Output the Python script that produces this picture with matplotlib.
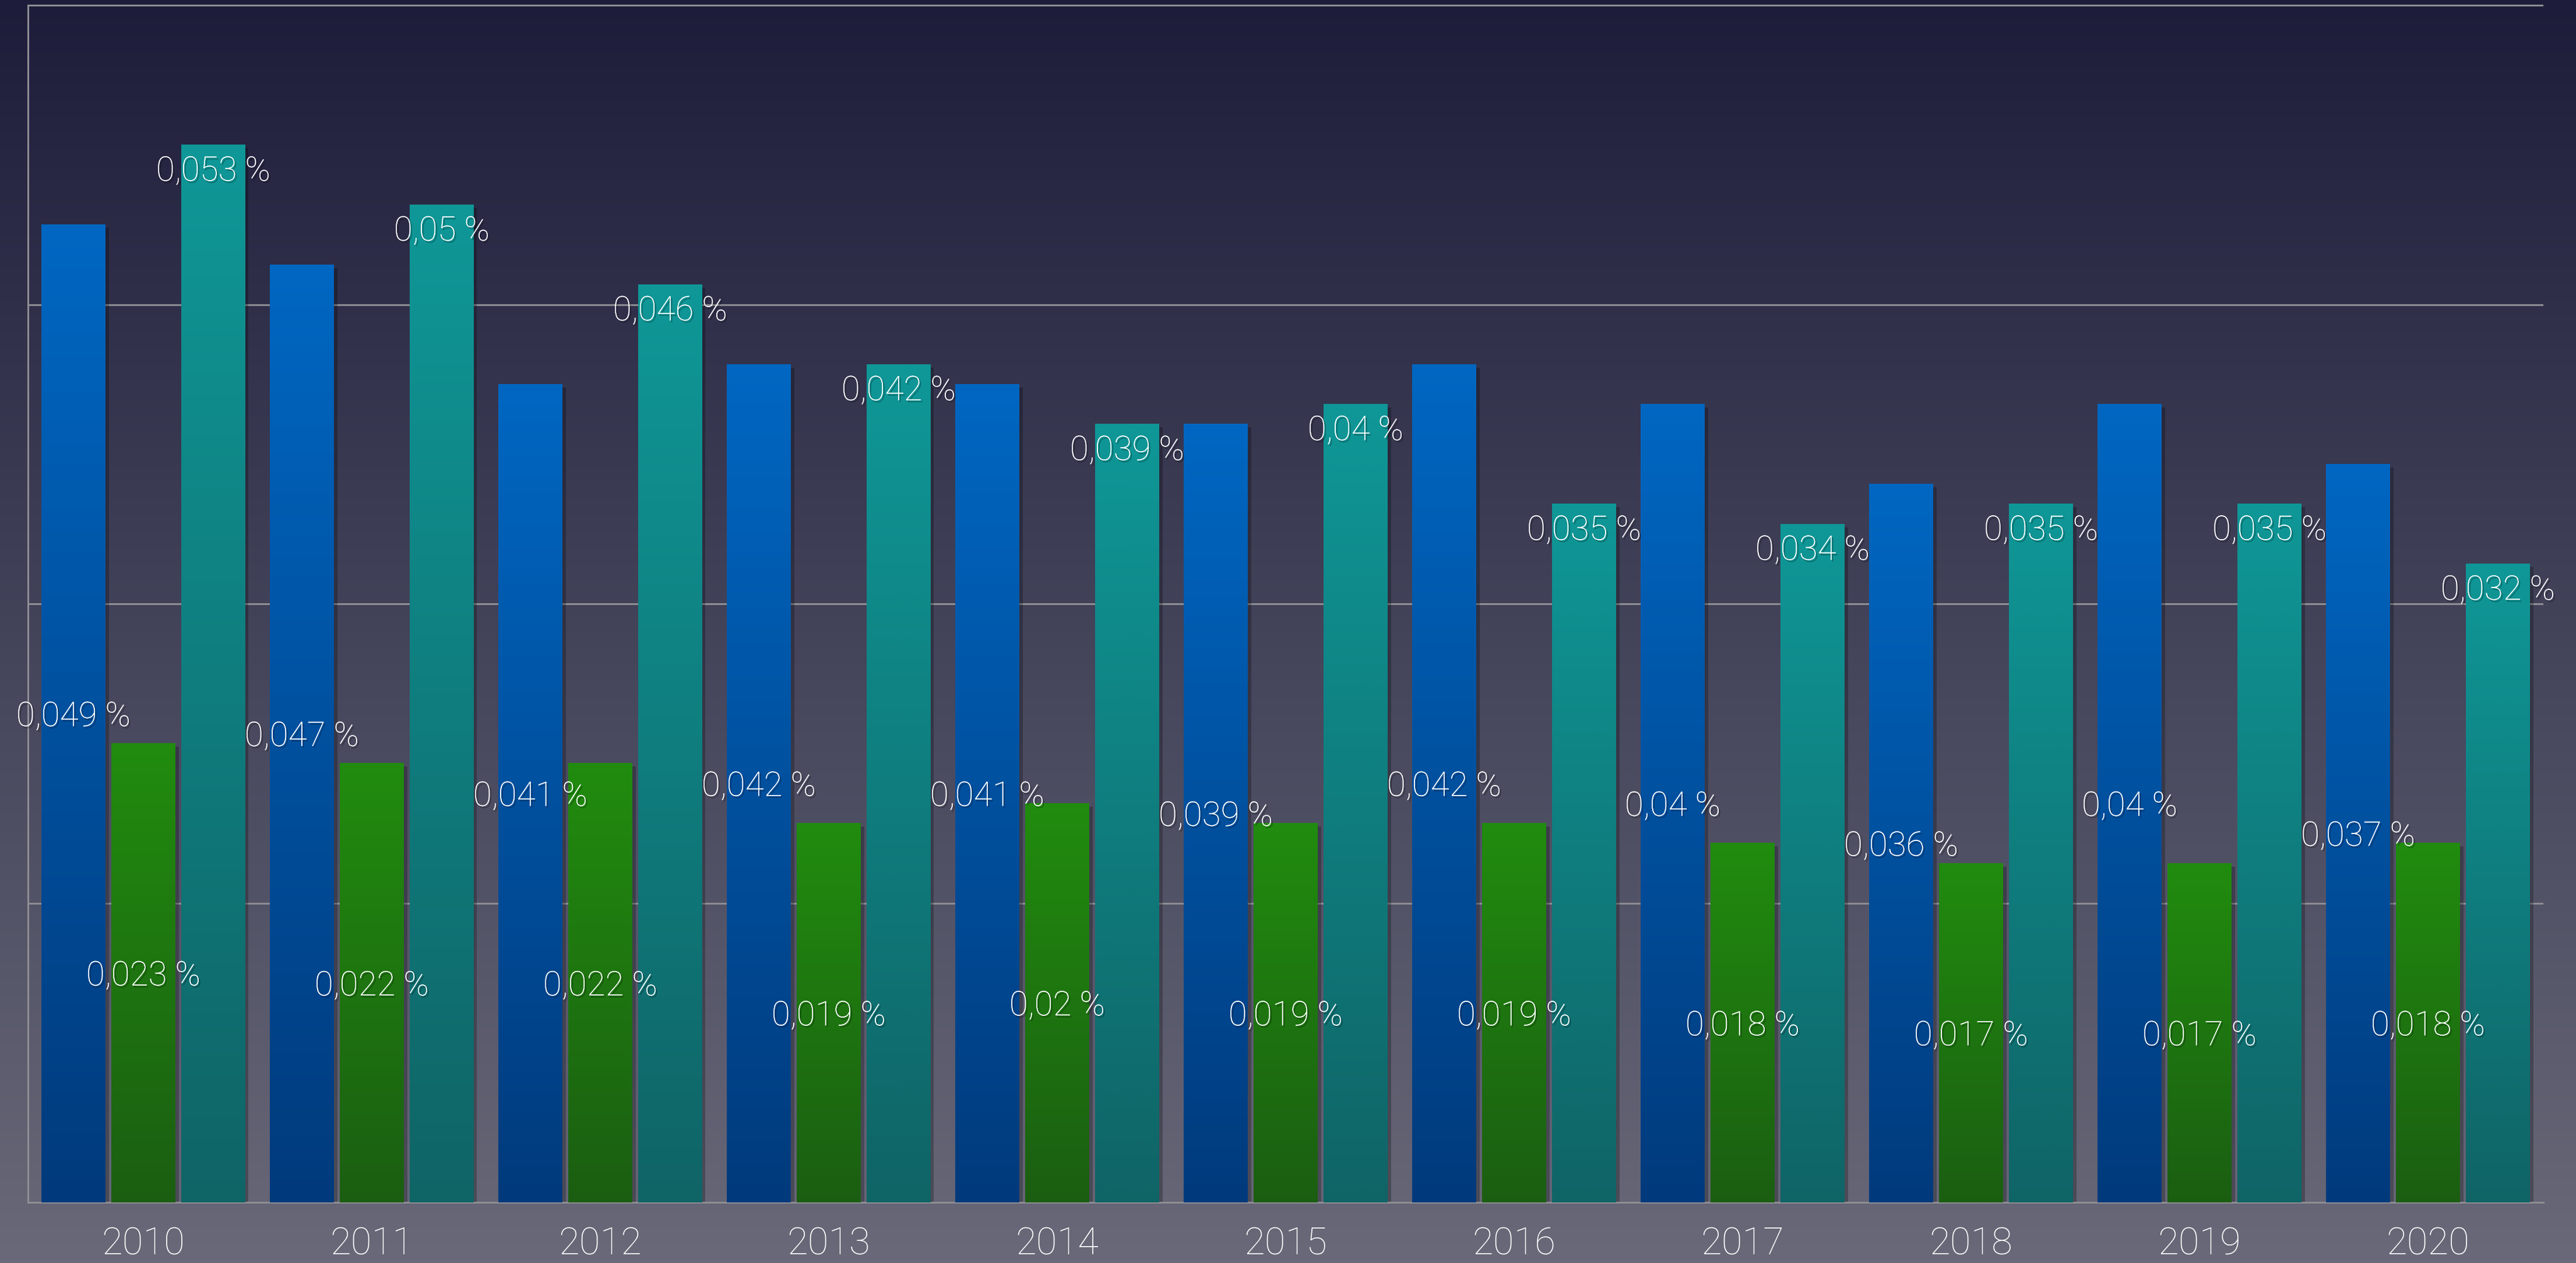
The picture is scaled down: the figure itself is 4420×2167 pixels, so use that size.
import numpy as np
import matplotlib
matplotlib.use('Agg')
import matplotlib.pyplot as plt
import matplotlib.patheffects as pe
from matplotlib.colors import to_rgb

years = ['2010', '2011', '2012', '2013', '2014', '2015', '2016', '2017', '2018', '2019', '2020']
blue_vals = [0.049, 0.047, 0.041, 0.042, 0.041, 0.039, 0.042, 0.040, 0.036, 0.040, 0.037]
green_vals = [0.023, 0.022, 0.022, 0.019, 0.020, 0.019, 0.019, 0.018, 0.017, 0.017, 0.018]
teal_vals = [0.053, 0.050, 0.046, 0.042, 0.039, 0.040, 0.035, 0.034, 0.035, 0.035, 0.032]

plt.rcParams['font.family'] = ['Roboto', 'DejaVu Sans']

fig = plt.figure(figsize=(22.1, 10.835), dpi=200)

# background gradient
bg = fig.add_axes([0, 0, 1, 1], zorder=-10)
top_c = np.array(to_rgb('#1d1d3b'))
bot_c = np.array(to_rgb('#696979'))
t = np.linspace(0, 1, 512)[:, None]
bg.imshow((top_c + (bot_c - top_c) * t)[:, None, :], aspect='auto', extent=[0, 1, 0, 1])
bg.set_axis_off()

ax = fig.add_axes([48 / 4420, 104 / 2167, (4364 - 48) / 4420, 2063 / 2167])
ax.patch.set_alpha(0)

x = np.arange(len(years))
w = 0.2806
off = 0.306

series = [
    (blue_vals, -off, '#0067c2', '#003a7c', 'mid'),
    (green_vals, 0, '#218c0e', '#1b5e12', 'mid'),
    (teal_vals, off, '#0f9797', '#0f6466', 'top'),
]

txt_fx = [pe.withSimplePatchShadow(offset=(1.0, -1.2), shadow_rgbFace='black', alpha=0.3), pe.Normal()]

for vals, dx, ctop, cbot, pos in series:
    bars = ax.bar(x + dx, vals, w, color=cbot, zorder=2,
                  path_effects=[pe.withSimplePatchShadow(offset=(2, -2), shadow_rgbFace='black', alpha=0.25)])
    c1, c2 = np.array(to_rgb(ctop)), np.array(to_rgb(cbot))
    grad = (c1 + (c2 - c1) * t)[:, None, :]
    for b, v in zip(bars, vals):
        x0, bw, h = b.get_x(), b.get_width(), b.get_height()
        ax.imshow(grad, aspect='auto', extent=[x0, x0 + bw, 0, h], zorder=3)
        label = f'{v:g}'.replace('.', ',') + ' %'
        if pos == 'mid':
            ax.text(x0 + bw / 2, h / 2, label, ha='center', va='center_baseline', color='white',
                    fontsize=21, fontweight='light', zorder=5, path_effects=txt_fx)
        else:
            ax.annotate(label, (x0 + bw / 2, h), xytext=(0, -14.4), textcoords='offset points',
                        ha='center', va='center_baseline', color='white', fontsize=21,
                        fontweight='light', zorder=5, path_effects=txt_fx)

ax.set_xlim(-0.505, 10.505)
ax.set_ylim(0, 0.06 * 2063 / 2054)
ax.set_yticks([0.015, 0.03, 0.045, 0.06])
ax.set_yticklabels([])
ax.yaxis.grid(True, color='#8e8e94', lw=1.1)
ax.set_axisbelow(True)
ax.set_xticks(x)
ax.set_xticklabels(years, color='white', fontsize=23.5, fontweight='light')
ax.tick_params(axis='both', length=0)
ax.tick_params(axis='x', pad=14.5)
for s in ['top', 'right']:
    ax.spines[s].set_visible(False)
for s in ['left', 'bottom']:
    ax.spines[s].set_color('#8e8e94')
    ax.spines[s].set_linewidth(1.1)
ax.spines['left'].set_bounds(0, 0.06)

fig.savefig('out.png', dpi=200)
